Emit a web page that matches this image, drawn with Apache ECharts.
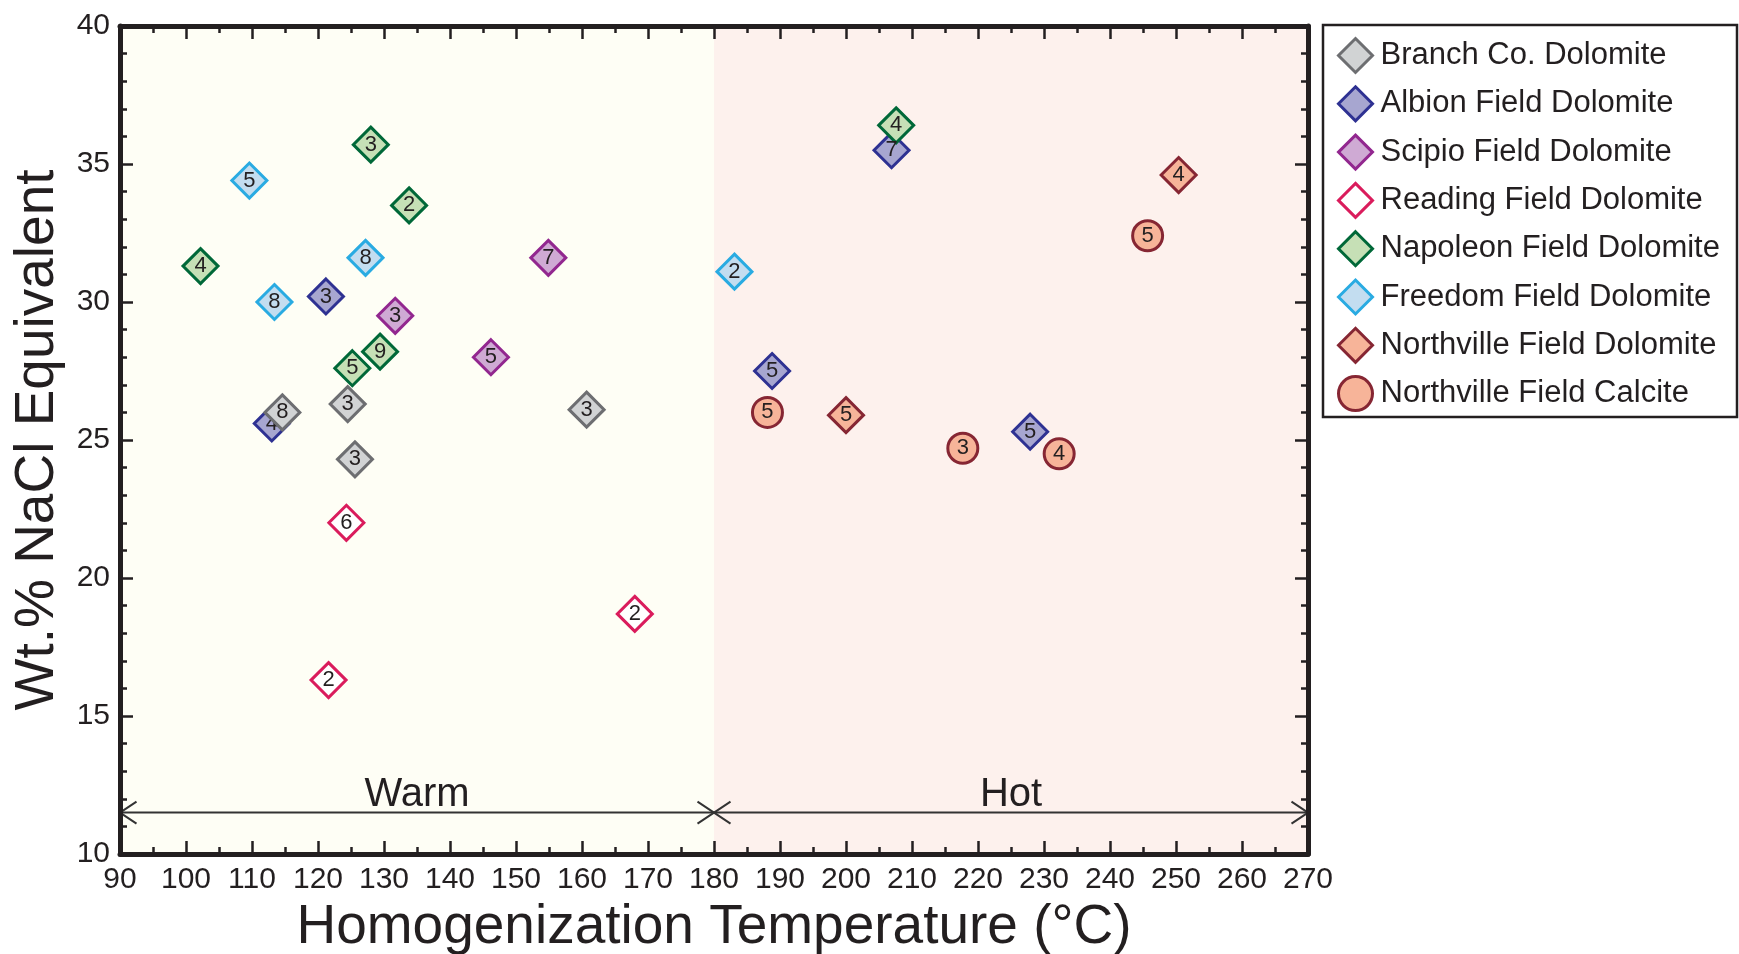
<!DOCTYPE html>
<html>
<head>
<meta charset="utf-8">
<title>Homogenization temperature vs salinity</title>
<script src="https://cdn.jsdelivr.net/npm/echarts@6/dist/echarts.min.js"></script>
<style>
  html, body { margin: 0; padding: 0; background: #ffffff; }
  #chart { width: 1739px; height: 954px; }
</style>
</head>
<body>
<div id="chart"></div>
<script>
// each point: [homogenization temperature (°C), wt.% NaCl equivalent, number of inclusions]
const branchCo = [[160.7, 26.1, 3], [124.5, 26.3, 3], [125.6, 24.3, 3], [114.6, 26.0, 8]];
const albion = [[113.0, 25.6, 4], [121.2, 30.2, 3], [206.9, 35.5, 7], [188.8, 27.5, 5], [227.9, 25.3, 5]];
const scipio = [[154.9, 31.6, 7], [131.7, 29.5, 3], [146.2, 28.0, 5]];
const reading = [[124.3, 22.0, 6], [121.6, 16.3, 2], [168.0, 18.7, 2]];
const napoleon = [[128.0, 35.7, 3], [133.8, 33.5, 2], [102.2, 31.3, 4], [129.4, 28.2, 9], [125.2, 27.6, 5], [207.6, 36.4, 4]];
const freedom = [[109.6, 34.4, 5], [127.2, 31.6, 8], [113.4, 30.0, 8], [183.1, 31.1, 2]];
const northvilleDol = [[250.4, 34.6, 4], [200.0, 25.9, 5]];
const northvilleCal = [[245.7, 32.4, 5], [188.1, 26.0, 5], [217.7, 24.7, 3], [232.3, 24.5, 4]];

// temperature zones along the bottom
const zoneNames = ['Warm', 'Hot'];
const zoneBounds = [90, 180, 270];
const zoneArrowY = 11.5;
const zoneLabelY = 12.15;

const xTicks = { min: 90, max: 270, step: 10 };
const yTicks = { min: 10, max: 40, step: 5 };

const ink = '#231f20';
const font = "'Liberation Sans', Arial, Helvetica, sans-serif";

const groups = [
  { name: 'Branch Co. Dolomite', data: branchCo, symbol: 'diamond', fill: '#d1d3d4', border: '#6d6e71', z: 4 },
  { name: 'Albion Field Dolomite', data: albion, symbol: 'diamond', fill: '#a7a6d0', border: '#2e3192', z: 3 },
  { name: 'Scipio Field Dolomite', data: scipio, symbol: 'diamond', fill: '#cfaad4', border: '#92278f', z: 3 },
  { name: 'Reading Field Dolomite', data: reading, symbol: 'diamond', fill: '#ffffff', border: '#da1c5c', z: 3 },
  { name: 'Napoleon Field Dolomite', data: napoleon, symbol: 'diamond', fill: '#c6e0b6', border: '#006838', z: 3 },
  { name: 'Freedom Field Dolomite', data: freedom, symbol: 'diamond', fill: '#c3ddf0', border: '#29abe2', z: 3 },
  { name: 'Northville Field Dolomite', data: northvilleDol, symbol: 'diamond', fill: '#f7b499', border: '#862633', z: 3 },
  { name: 'Northville Field Calcite', data: northvilleCal, symbol: 'circle', fill: '#f7b499', border: '#862633', z: 3 }
];

const chart = echarts.init(document.getElementById('chart'));

const scatterSeries = groups.map(g => ({
  type: 'scatter',
  name: g.name,
  data: g.data,
  symbol: g.symbol,
  symbolSize: g.symbol === 'circle' ? 30 : 35,
  z: g.z,
  itemStyle: { color: g.fill, borderColor: g.border, borderWidth: 3, opacity: 1 },
  label: {
    show: true,
    position: 'inside',
    formatter: p => p.value[2],
    fontSize: 22,
    color: ink,
    fontFamily: font
  },
  emphasis: { disabled: true }
}));

// horizontal arrows: one line across, plus open chevrons at every zone bound
const arrowDx = 2.5, arrowDy = 0.4;
const arrowSeries = [];
arrowSeries.push({
  type: 'line',
  name: 'zones',
  data: [[zoneBounds[0], zoneArrowY], [zoneBounds[zoneBounds.length - 1], zoneArrowY]],
  symbol: 'none',
  silent: true,
  z: 1,
  lineStyle: { color: '#333333', width: 2 },
  markArea: {
    silent: true,
    data: [
      [{ xAxis: zoneBounds[0], itemStyle: { color: '#fefef5' } }, { xAxis: zoneBounds[1] }],
      [{ xAxis: zoneBounds[1], itemStyle: { color: '#fdf1ed' } }, { xAxis: zoneBounds[2] }]
    ]
  }
});
for (let i = 0; i < zoneBounds.length - 1; i++) {
  const a = zoneBounds[i], b = zoneBounds[i + 1];
  // left-pointing head at the start, right-pointing head at the end
  [[a, a + arrowDx], [b, b - arrowDx]].forEach(([tip, back]) => {
    arrowSeries.push({
      type: 'line',
      data: [[back, zoneArrowY + arrowDy], [tip, zoneArrowY], [back, zoneArrowY - arrowDy]],
      symbol: 'none',
      silent: true,
      z: 1,
      lineStyle: { color: '#333333', width: 2 }
    });
  });
}

const zoneLabelSeries = {
  type: 'scatter',
  name: 'zoneLabels',
  silent: true,
  symbolSize: 0,
  z: 2,
  itemStyle: { opacity: 1 },
  data: zoneNames.map((n, i) => ({ value: [(zoneBounds[i] + zoneBounds[i + 1]) / 2, zoneLabelY], name: n })),
  label: {
    show: true,
    position: 'inside',
    formatter: p => p.name,
    fontSize: 40,
    color: ink,
    fontFamily: font
  }
};

const axisLine = { show: true, onZero: false, lineStyle: { color: ink, width: 5 } };
const tickStyle = { color: ink, width: 2.5 };

function xAxisOf(pos, withLabels) {
  return {
    type: 'value',
    position: pos,
    z: 10,
    min: xTicks.min, max: xTicks.max, interval: xTicks.step,
    axisLine: axisLine,
    axisTick: { show: true, inside: true, length: 13, lineStyle: tickStyle },
    minorTick: { show: true, splitNumber: 2, length: 7, lineStyle: tickStyle },
    splitLine: { show: false },
    axisLabel: { show: withLabels, margin: 11, fontSize: 30, color: ink, fontFamily: font },
    name: withLabels ? 'Homogenization Temperature (°C)' : '',
    nameLocation: 'middle',
    nameGap: 45,
    nameTextStyle: { fontSize: 55, color: ink, fontFamily: font }
  };
}

function yAxisOf(pos, withLabels) {
  return {
    type: 'value',
    position: pos,
    z: 10,
    min: yTicks.min, max: yTicks.max, interval: yTicks.step,
    axisLine: axisLine,
    axisTick: { show: true, inside: true, length: 13, lineStyle: tickStyle },
    minorTick: { show: true, splitNumber: 5, length: 7, lineStyle: tickStyle },
    splitLine: { show: false },
    axisLabel: { show: withLabels, margin: 10, fontSize: 30, color: ink, fontFamily: font },
    name: withLabels ? 'Wt.% NaCl Equivalent' : '',
    nameLocation: 'middle',
    nameGap: 48,
    nameTextStyle: { fontSize: 55, color: ink, fontFamily: font }
  };
}

chart.setOption({
  animation: false,
  backgroundColor: '#ffffff',
  grid: { left: 120, right: 431, top: 26, bottom: 100, containLabel: false, outerBoundsMode: 'none' },
  xAxis: [xAxisOf('bottom', true), xAxisOf('top', false)],
  yAxis: [yAxisOf('left', true), yAxisOf('right', false)],
  legend: {
    data: groups.map(g => g.name),
    orient: 'vertical',
    left: 1337,
    top: 37,
    padding: 0,
    itemWidth: 34,
    itemHeight: 34,
    itemGap: 11.3,
    itemStyle: { borderWidth: 3 },
    selectedMode: false,
    textStyle: { fontSize: 31, color: ink, fontFamily: font, padding: [0, 0, 0, 3] }
  },
  graphic: [{
    type: 'rect',
    shape: { x: 1323, y: 25, width: 414, height: 392 },
    style: { fill: 'none', stroke: ink, lineWidth: 2.5 },
    silent: true
  }],
  series: arrowSeries.concat([zoneLabelSeries], scatterSeries)
});
</script>
</body>
</html>
